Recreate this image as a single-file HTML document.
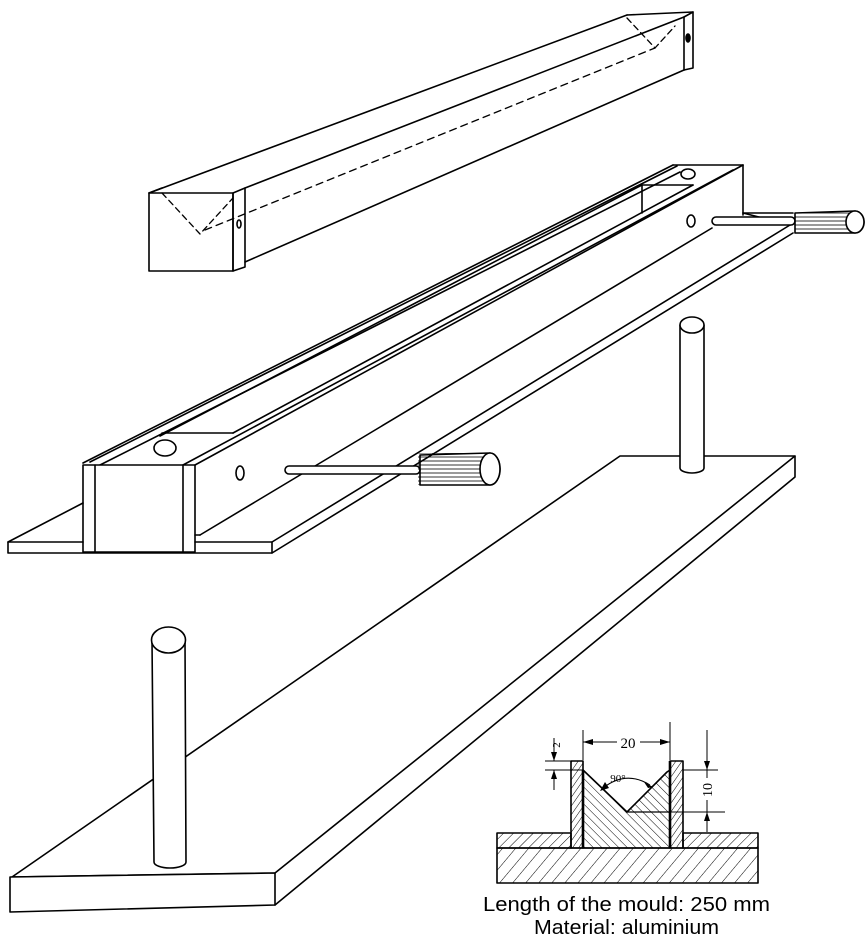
<!DOCTYPE html>
<html><head><meta charset="utf-8"><style>
html,body{margin:0;padding:0;background:#fff;}
svg{display:block;}
</style></head><body>
<svg width="866" height="945" viewBox="0 0 866 945" xmlns="http://www.w3.org/2000/svg">
<defs>
<pattern id="hf" width="7" height="7" patternUnits="userSpaceOnUse" patternTransform="rotate(45)"><line x1="0" y1="0" x2="0" y2="7" stroke="#000" stroke-width="1"/></pattern>
<pattern id="hb" width="10" height="10" patternUnits="userSpaceOnUse" patternTransform="rotate(40)"><line x1="0" y1="0" x2="0" y2="10" stroke="#000" stroke-width="1"/></pattern>
<pattern id="hw" width="5" height="5" patternUnits="userSpaceOnUse" patternTransform="rotate(35)"><line x1="0" y1="0" x2="0" y2="5" stroke="#000" stroke-width="1"/></pattern>
<pattern id="hi" width="6" height="6" patternUnits="userSpaceOnUse" patternTransform="rotate(-45)"><line x1="0" y1="0" x2="0" y2="6" stroke="#000" stroke-width="1"/></pattern>
<pattern id="kn" width="4" height="4" patternUnits="userSpaceOnUse"><line x1="0" y1="1" x2="4" y2="1" stroke="#000" stroke-width="0.8"/></pattern>
</defs>
<g fill="none" stroke="#000" stroke-width="1.6" stroke-linejoin="round" stroke-linecap="round">
<!-- TOP BAR -->
<rect x="149" y="193" width="84" height="78" fill="#fff"/>
<polygon points="233,193 245,188 245,267 233,271"/>
<line x1="149" y1="193" x2="627" y2="15"/>
<line x1="245" y1="188" x2="684" y2="17"/>
<line x1="627" y1="15" x2="693" y2="12"/>
<line x1="149" y1="193" x2="162" y2="188"/>
<line x1="245" y1="262" x2="684" y2="70"/>
<line x1="684" y1="17" x2="684" y2="70"/>
<polyline points="684,17 693,12 693,68 684,70"/>
<polyline points="162,193 200,234 233,198" stroke-dasharray="6,4" stroke-width="1.3"/>
<line x1="205" y1="230" x2="655" y2="48" stroke-dasharray="7,5" stroke-width="1.3"/>
<polyline points="627,18 655,48 675,26" stroke-dasharray="6,4" stroke-width="1.3"/>
<ellipse cx="239" cy="224" rx="2" ry="4"/>
<ellipse cx="688" cy="38" rx="2" ry="4" fill="#000"/>

<!-- MIDDLE MOULD -->
<line x1="83" y1="463" x2="673" y2="165"/>
<line x1="90" y1="462" x2="677" y2="166"/>
<line x1="100" y1="465" x2="680" y2="172"/>
<line x1="160" y1="436" x2="642" y2="185"/>
<line x1="233" y1="433" x2="693" y2="185"/>
<line x1="183" y1="465" x2="733" y2="170"/>
<line x1="195" y1="465" x2="743" y2="165"/>
<line x1="673" y1="165" x2="743" y2="165"/>
<line x1="162" y1="433" x2="233" y2="433"/>
<line x1="642" y1="185" x2="693" y2="185"/>
<line x1="642" y1="185" x2="642" y2="213"/>
<line x1="743" y1="165" x2="743" y2="215"/>
<line x1="200" y1="535" x2="712" y2="228"/>
<line x1="272" y1="542" x2="790" y2="225"/>
<line x1="272" y1="553" x2="793" y2="233"/>
<line x1="743" y1="213" x2="790" y2="225"/>
<ellipse cx="165" cy="448" rx="11" ry="8"/>
<ellipse cx="240" cy="473" rx="4" ry="7"/>
<ellipse cx="688" cy="174" rx="7" ry="5"/>
<ellipse cx="691" cy="221" rx="4" ry="6"/>
<!-- front end -->
<rect x="83" y="465" width="112" height="87" fill="#fff"/>
<line x1="95" y1="465" x2="95" y2="552"/>
<line x1="183" y1="465" x2="183" y2="552"/>
<polyline points="83,503 8,542 8,553 272,553 272,542 195,542"/>
<line x1="8" y1="542" x2="83" y2="542"/>
<line x1="195" y1="535" x2="200" y2="535"/>
<!-- lower handle -->
<rect x="285" y="466" width="135" height="8" rx="4" fill="#fff"/>
<rect x="418" y="453" width="72" height="32" fill="url(#kn)" stroke="none"/>
<path d="M420,455 L490,453 A10,16 0 0 1 490,485 L420,485 Z" fill="none"/>
<ellipse cx="490" cy="469" rx="10" ry="16" fill="#fff"/>
<!-- upper handle -->
<rect x="712" y="217" width="83" height="8" rx="4" fill="#fff"/>
<line x1="743" y1="213" x2="793" y2="213"/>
<rect x="795" y="212" width="60" height="21" fill="url(#kn)" stroke="none"/>
<path d="M795,213 L855,211 A9,11 0 0 1 855,233 L795,233 Z"/>
<ellipse cx="855" cy="222" rx="9" ry="11" fill="#fff"/>

<!-- LOWER PLATE -->
<polygon points="12,877 620,456 795,456 275,873"/>
<polygon points="10,877 275,873 275,905 10,912" fill="#fff"/>
<polyline points="795,456 795,477 275,905"/>
<!-- right pin -->
<path d="M680,325 L680,468 A12,5 0 0 0 704,468 L704,325" fill="#fff"/>
<ellipse cx="692" cy="325" rx="12" ry="8" fill="#fff"/>
<!-- left pin -->
<path d="M152,640 L154,862 A16,6 0 0 0 186,862 L185,640" fill="#fff"/>
<ellipse cx="168.5" cy="640" rx="17" ry="13" fill="#fff"/>
</g>

<!-- CROSS SECTION -->
<g stroke="#000" stroke-width="1.6" stroke-linejoin="round">
<rect x="497" y="848" width="261" height="35" fill="url(#hb)"/>
<polygon points="497,833 571,833 571,848 497,848" fill="url(#hf)"/>
<polygon points="683,833 758,833 758,848 683,848" fill="url(#hf)"/>
<rect x="571" y="761" width="12" height="87" fill="url(#hw)"/>
<rect x="670" y="761" width="13" height="87" fill="url(#hw)"/>
<polygon points="583,770 627,812 667,772 670,770 670,848 583,848" fill="url(#hi)"/>
<line x1="627" y1="812" x2="670" y2="812" stroke-width="1.2"/>
<line x1="583" y1="770" x2="583" y2="848" stroke-width="2.6"/>
<line x1="670" y1="761" x2="670" y2="848" stroke-width="2.6"/>
</g>
<g stroke="#000" stroke-width="1" fill="none">
<line x1="545" y1="761" x2="571" y2="761"/>
<line x1="545" y1="770" x2="583" y2="770"/>
<line x1="554" y1="738" x2="554" y2="761"/>
<line x1="554" y1="770" x2="554" y2="790"/>
<line x1="583" y1="730" x2="583" y2="760"/>
<line x1="670" y1="722" x2="670" y2="760"/>
<line x1="583" y1="742" x2="617" y2="742"/>
<line x1="640" y1="742" x2="670" y2="742"/>
<line x1="683" y1="770" x2="718" y2="770"/>
<line x1="627" y1="812" x2="725" y2="812"/>
<line x1="707" y1="730" x2="707" y2="778"/>
<line x1="707" y1="800" x2="707" y2="832"/>
<path d="M603,788 Q626,770 650,785"/>
</g>
<g fill="#000">
<polygon points="583,742 593,739 593,745"/>
<polygon points="670,742 660,739 660,745"/>
<polygon points="554,761 551,752 557,752"/>
<polygon points="554,770 551,779 557,779"/>
<polygon points="707,770 704,761 710,761"/>
<polygon points="707,812 704,821 710,821"/>
<polygon points="600,791 605,782 609,788"/>
<polygon points="653,787 644,782 648,788"/>
</g>
<g font-family="Liberation Serif, serif" fill="#000">
<text x="628" y="748" font-size="15" text-anchor="middle">20</text>
<text x="618" y="782" font-size="11" text-anchor="middle">90°</text>
<text transform="translate(560,745) rotate(-90)" font-size="11" text-anchor="middle">2</text>
<text transform="translate(712,790) rotate(-90)" font-size="14" text-anchor="middle">10</text>
</g>
<g font-family="Liberation Sans, sans-serif" fill="#000" font-size="20">
<text x="483" y="911" textLength="287" lengthAdjust="spacingAndGlyphs">Length of the mould: 250 mm</text>
<text x="534" y="934" textLength="185" lengthAdjust="spacingAndGlyphs">Material: aluminium</text>
</g>
</svg>
</body></html>
